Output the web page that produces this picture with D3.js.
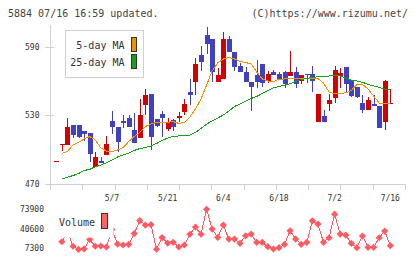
<!DOCTYPE html>
<html>
<head>
<meta charset="utf-8">
<script src="https://cdn.jsdelivr.net/npm/d3@7"></script>
<style>
body { margin: 0; background: #fff; }
svg { display: block; font-family: "DejaVu Sans Mono", monospace; }
</style>
</head>
<body>
<svg width="420" height="259"></svg>
<script>
// Торговые дни (ось X)
const dates = ["4/18", "4/21", "4/22", "4/23", "4/24", "4/25", "4/28", "4/30", "5/1", "5/2",
    "5/7", "5/8", "5/9", "5/12", "5/13", "5/14", "5/15", "5/16", "5/19", "5/20",
    "5/21", "5/22", "5/23", "5/26", "5/27", "5/28", "5/29", "5/30", "6/2", "6/3",
    "6/4", "6/5", "6/6", "6/9", "6/10", "6/11", "6/12", "6/13", "6/16", "6/17",
    "6/18", "6/19", "6/20", "6/23", "6/24", "6/25", "6/26", "6/27", "6/30", "7/1",
    "7/2", "7/3", "7/4", "7/7", "7/8", "7/9", "7/10", "7/11", "7/14", "7/15",
    "7/16"];

// Цены: открытие, максимум, минимум, закрытие
const opens = [490, 504, 504, 522, 522, 516, 515, 485, 490, 495,
    525, 520, 525, 528, 517, 510, 539, 549, 527, 531,
    518, 526, 528, 533, 550, 559, 583, 600, 597, 559,
    562, 597, 585, 573, 568, 559, 565, 575, 560, 568,
    566, 568, 564, 568, 560, 566, 566, 524, 529, 540,
    545, 564, 572, 561, 555, 541, 535, 540, 538, 524,
    540];
const highs = [490, 505, 528, 522, 522, 516, 515, 498, 494, 512,
    534, 520, 530, 530, 532, 544, 553, 549, 527, 534,
    528, 527, 533, 544, 562, 580, 591, 607, 597, 571,
    603, 599, 585, 576, 572, 559, 578, 575, 569, 570,
    568, 569, 586, 572, 565, 566, 573, 549, 535, 549,
    573, 571, 572, 561, 555, 548, 546, 548, 538, 561,
    553];
const lows = [490, 499, 504, 510, 510, 508, 489, 485, 488, 495,
    514, 498, 519, 520, 506, 510, 530, 500, 520, 511,
    516, 516, 524, 530, 539, 548, 569, 584, 559, 559,
    562, 585, 569, 568, 559, 534, 554, 555, 558, 565,
    561, 554, 564, 554, 557, 558, 550, 524, 524, 534,
    541, 554, 550, 546, 545, 532, 535, 538, 519, 517,
    540];
const closes = [490, 505, 520, 513, 511, 514, 496, 494, 488, 505,
    520, 507, 523, 520, 506, 530, 548, 511, 521, 528,
    524, 520, 529, 540, 548, 575, 577, 592, 568, 565,
    597, 585, 572, 568, 559, 555, 559, 558, 566, 565,
    562, 557, 568, 557, 565, 565, 560, 549, 524, 543,
    570, 567, 557, 547, 546, 535, 543, 538, 519, 560,
    541];

// Скользящие средние
const ma5 = [null, 496.7, 498.4, 504.1, 506.3, 509.3, 511.5, 508.5, 501.5, 498.8, 498.2,
    499.7, 501.9, 507.1, 511.5, 515, 520.3, 522.4, 523.8, 524.2, 523.8,
    524.6, 522.9, 523.8, 528.6, 535.6, 544.3, 556.5, 568.8, 575.8, 579.2,
    580.6, 579.3, 577.1, 576.2, 574.9, 567.9, 561.8, 560, 559.6, 561.5,
    561.8, 562.2, 562.4, 561.8, 562.2, 562.4, 562.2, 558.3, 550.4, 548.7,
    549.1, 549.7, 551.7, 557.1, 557, 553, 546.9, 540.8, 539.9, 540.5];
const ma25 = [null, 474.4, 475.9, 477.4, 479.2, 481.8, 482.8, 485.1, 486.6, 488.6, 491,
    493.6, 495.3, 497.1, 499.3, 501, 501.9, 503.2, 505.4, 508, 510.2,
    511.5, 512, 512.2, 512.8, 515, 518.5, 522.4, 525.1, 527.7, 530.3,
    533.8, 537.7, 539.9, 542.5, 544.7, 546.5, 549.1, 551.7, 553.9, 555.2,
    556.5, 557.7, 559.6, 561.3, 562.4, 563.1, 563.8, 564.2, 564.4, 564.4,
    564.4, 562.6, 560.9, 560, 558.9, 557.1, 555.7, 554.5, 553, 552.8];

// Объём торгов
const volumes = [null, 18400, 35800, 10800, 5300, 6500, 22100, 10800, 11200, 9500, 39000,
    14500, 12900, 14000, 32300, 54200, 46600, 47400, 5800, 25500, 16200,
    17400, 9500, 12900, 31100, 43200, 31100, 73400, 39800, 25800, 46600,
    23000, 23000, 15700, 28500, 31400, 17400, 17400, 10000, 6100, 8300,
    14000, 37000, 23000, 14000, 17400, 53800, 48300, 17400, 25200, 65100,
    31400, 29700, 15700, 8300, 28000, 9000, 9000, 25200, 36500, 11700];

// Подписи осей
const priceTicks = [470, 530, 590];
const volumeTicks = [7300, 40600, 73900];
const dateLabels = ["5/7", "5/21", "6/4", "6/18", "7/2", "7/16"];

const svg = d3.select("svg");
const gridColor = "#d0d0d0";
const textColor = "#333";
const upColor = "#d40000";
const downColor = "#4040c0";
const volColor = "#ff5a62";

// Шкалы
const x = d3.scalePoint().domain(dates).range([56.3, 390.3]);
const y = d3.scaleLinear().domain([470, 590]).range([184, 46.7]);
const yVol = d3.scaleLinear().domain([7300, 73900]).range([248.3, 209]);
const gridX = d3.scaleLinear().domain([0, 11]).range([50, 405]);
const px = (d) => Math.round(x(d));

// Заголовок
svg.append("text").attr("x", 8).attr("y", 17.3)
    .attr("font-size", 10).attr("fill", "#444")
    .text("5884 07/16 16:59 updated.");
svg.append("text").attr("x", 408).attr("y", 17.3)
    .attr("font-size", 10).attr("fill", "#444").attr("text-anchor", "end")
    .text("(C)https://www.rizumu.net/");

// Оси
const axes = svg.append("g").attr("stroke", gridColor).attr("shape-rendering", "crispEdges");
axes.append("line").attr("x1", 50.5).attr("x2", 50.5).attr("y1", 25).attr("y2", 190);
axes.append("line").attr("x1", 45).attr("x2", 405).attr("y1", 184.5).attr("y2", 184.5);
axes.selectAll(".ytick").data(priceTicks).join("line")
    .attr("x1", 45).attr("x2", 54)
    .attr("y1", (d) => Math.round(y(d)) + 0.5)
    .attr("y2", (d) => Math.round(y(d)) + 0.5);
axes.selectAll(".xtick").data(d3.range(12)).join("line")
    .attr("x1", (d) => Math.round(gridX(d)) + 0.5)
    .attr("x2", (d) => Math.round(gridX(d)) + 0.5)
    .attr("y1", 184).attr("y2", 190);

svg.append("g").selectAll("text").data(priceTicks).join("text")
    .attr("x", 39.5).attr("y", (d) => y(d) + 3)
    .attr("text-anchor", "end").attr("font-size", 8).attr("fill", textColor)
    .text((d) => d);

svg.append("g").selectAll("text").data(dateLabels).join("text")
    .attr("x", (d) => x(d)).attr("y", 200.5)
    .attr("text-anchor", "middle").attr("font-size", 8).attr("fill", textColor)
    .text((d) => d);

// Свечи
const candles = svg.append("g").attr("shape-rendering", "crispEdges");
const color = (i) => closes[i] >= opens[i] ? upColor : downColor;
candles.selectAll("line").data(dates).join("line")
    .attr("x1", (d) => px(d) + 0.5).attr("x2", (d) => px(d) + 0.5)
    .attr("y1", (d, i) => y(highs[i])).attr("y2", (d, i) => y(lows[i]))
    .attr("stroke", (d, i) => color(i));
candles.selectAll("rect").data(dates).join("rect")
    .attr("x", (d) => px(d) - 2)
    .attr("width", 5)
    .attr("y", (d, i) => Math.round(y(Math.max(opens[i], closes[i]))))
    .attr("height", (d, i) => Math.max(1,
        Math.round(y(Math.min(opens[i], closes[i]))) - Math.round(y(Math.max(opens[i], closes[i])))))
    .attr("fill", (d, i) => color(i));

// Скользящие средние
const maLine = (values) => d3.line()
    .defined((d) => d != null)
    .x((d, i) => x(dates[i]))
    .y((d) => y(d))(values);
svg.append("path").attr("d", maLine(ma5))
    .attr("fill", "none").attr("stroke", "#f39000").attr("shape-rendering", "crispEdges");
svg.append("path").attr("d", maLine(ma25))
    .attr("fill", "none").attr("stroke", "#18a018").attr("shape-rendering", "crispEdges");

// Легенда цены
const legend = svg.append("g");
legend.append("rect").attr("x", 65.5).attr("y", 30.5).attr("width", 78).attr("height", 47)
    .attr("fill", "#fff").attr("stroke", gridColor);
legend.append("text").attr("x", 124.5).attr("y", 49).attr("text-anchor", "end")
    .attr("font-size", 10).attr("fill", textColor).text("5-day MA");
legend.append("text").attr("x", 124.5).attr("y", 65.6).attr("text-anchor", "end")
    .attr("font-size", 10).attr("fill", textColor).text("25-day MA");
legend.append("rect").attr("x", 131.5).attr("y", 37.5).attr("width", 5).attr("height", 14)
    .attr("fill", "#f39000").attr("stroke", "#333").attr("shape-rendering", "crispEdges");
legend.append("rect").attr("x", 131.5).attr("y", 54.5).attr("width", 5).attr("height", 14)
    .attr("fill", "#18a018").attr("stroke", "#333").attr("shape-rendering", "crispEdges");

// Объём
const volLine = d3.line()
    .defined((d) => d != null)
    .x((d, i) => x(dates[i]))
    .y((d) => yVol(d));
svg.append("path").attr("d", volLine(volumes))
    .attr("fill", "none").attr("stroke", volColor).attr("shape-rendering", "crispEdges");
svg.append("g").selectAll("path").data(volumes.map((v, i) => ({v, d: dates[i]})).filter((p) => p.v != null))
    .join("path")
    .attr("d", d3.symbol(d3.symbolSquare, 26))
    .attr("transform", (p) => `translate(${x(p.d)},${yVol(p.v)}) rotate(45)`)
    .attr("fill", volColor);

svg.append("g").selectAll("text").data(volumeTicks).join("text")
    .attr("x", 44).attr("y", (d) => yVol(d) + 3)
    .attr("text-anchor", "end").attr("font-size", 8).attr("fill", textColor)
    .text((d) => d);

// Легенда объёма (белый фон перекрывает линию)
const volLegend = svg.append("g");
volLegend.append("rect").attr("x", 54).attr("y", 205).attr("width", 59.5).attr("height", 32.5)
    .attr("fill", "#fff");
volLegend.append("text").attr("x", 59).attr("y", 225.6)
    .attr("font-size", 10).attr("fill", textColor).text("Volume");
volLegend.append("rect").attr("x", 101.5).attr("y", 213.5).attr("width", 6).attr("height", 14.5)
    .attr("fill", "#ff6464").attr("stroke", "#333").attr("shape-rendering", "crispEdges");
</script>
</body>
</html>
